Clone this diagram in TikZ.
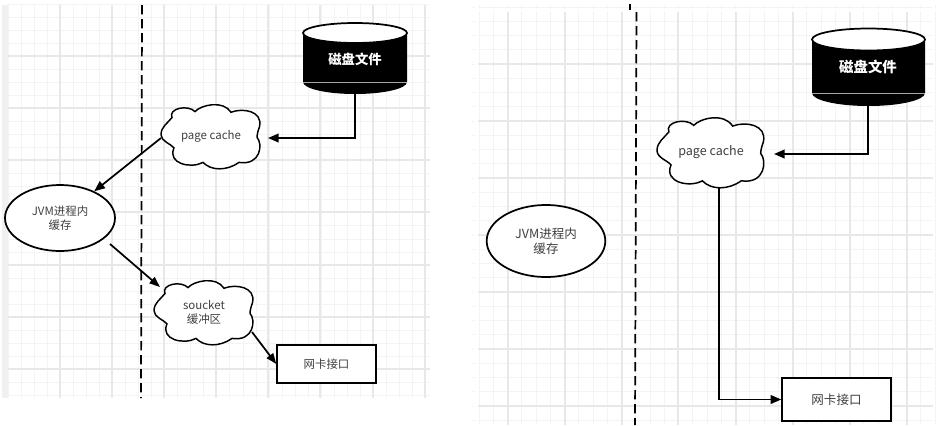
\documentclass[tikz,border=0pt]{standalone}
\usepackage{fontspec}
\setmainfont{Noto Sans CJK SC}
\usetikzlibrary{arrows.meta,shapes.geometric}
\definecolor{txt}{gray}{0.25}
\definecolor{minorg}{gray}{0.955}
\definecolor{majorg}{gray}{0.91}
\newcommand{\cloudoutline}{(0,.48)
 .. controls (.0,.36) and (.07,.3) .. (.11,.22)
 .. controls (.07,.08) and (.27,.02) .. (.34,.13)
 .. controls (.4,.03) and (.62,-.05) .. (.7,.14)
 .. controls (.82,.07) and (1.02,.12) .. (.985,.36)
 .. controls (.97,.42) and (.96,.48) .. (.96,.52)
 .. controls (1.02,.62) and (1,.95) .. (.78,.9)
 .. controls (.66,1.03) and (.5,1.03) .. (.42,.9)
 .. controls (.3,1) and (.06,.92) .. (.13,.68)
 .. controls (.1,.62) and (0,.58) .. (0,.48) -- cycle}
\tikzset{
  minorline/.style={draw=minorg,line width=.6pt},
  majorline/.style={draw=majorg,line width=.8pt},
  shapeline/.style={draw=black,line width=1.3pt},
  labelnode/.style={text=txt,align=center,font=\fontsize{8.6pt}{10.5pt}\selectfont,inner sep=0pt},
  labelbig/.style={text=txt,align=center,font=\fontsize{9.4pt}{11.2pt}\selectfont,inner sep=0pt},
  disklabel/.style={text=white,font=\bfseries\fontsize{10pt}{12pt}\selectfont,inner sep=0pt},
  conn/.style={draw=black,line width=1.3pt,-{Triangle[length=8pt,width=6.5pt]}},
  divider/.style={draw=black,line width=1.3pt,dash pattern=on 7pt off 3.5pt},
}
\begin{document}
\begin{tikzpicture}[x=.75pt,y=-.75pt]
\useasboundingbox (0,0) rectangle (938,425);
\fill[white] (0,0) rectangle (938,425);
% left panel grid
\fill[gray!12] (2,5) rectangle (8,398);
\foreach \i in {0,...,32} {
  \pgfmathsetmacro{\xx}{8+13.05*\i}
  \draw[minorline] (\xx,5) -- (\xx,398);
}
\foreach \i in {0,...,30} {
  \pgfmathsetmacro{\yy}{4+13.05*\i}
  \draw[minorline] (8,\yy) -- (430,\yy);
}
\foreach \xx in {60,112,164,216,268,320,373,425} \draw[majorline] (\xx,5) -- (\xx,398);
\foreach \yy in {56,108,160,212,265,317,369} \draw[majorline] (8,\yy) -- (430,\yy);
% right panel grid
\foreach \i in {0,...,32} {
  \pgfmathsetmacro{\xx}{479+14.25*\i}
  \draw[minorline] (\xx,12) -- (\xx,425);
  \draw[minorline] (\xx,5) -- (\xx,9);
}
\foreach \i in {0,...,29} {
  \pgfmathsetmacro{\yy}{7+14.25*\i}
  \draw[minorline] (478,\yy) -- (933,\yy);
  \draw[minorline] (471,\yy) -- (475,\yy);
}
\foreach \xx in {508,565,622,678,736,793,850,907} \draw[majorline] (\xx,12) -- (\xx,425);
\foreach \yy in {64,121,178,235,292,349,406} \draw[majorline] (478,\yy) -- (933,\yy);
% dividers
\coordinate (dl1) at (142,5); \coordinate (dl2) at (141,398);
\draw[divider] (dl1) -- (dl2);
\coordinate (dr0) at (630,4); \coordinate (dr1) at (630,10);
\draw[black,line width=1.3pt] (dr0) -- (dr1);
\coordinate (dr2) at (636.5,12); \coordinate (dr3) at (635,425);
\draw[divider] (dr2) -- (dr3);
% left disk
\fill[black] (303,33) -- (303,82) arc[start angle=180,end angle=360,x radius=52,y radius=-12] -- (407,33) -- cycle;
\draw[shapeline,fill=white] (355,33) ellipse[x radius=52,y radius=10];
\draw[gray!70,line width=.6pt] (303,82) -- (407,82);
\node[disklabel] (disk1) at (355,59) {磁盘文件};
\coordinate (disk1b) at (355,94);
% right disk
\fill[black] (812,39.5) -- (812,93) arc[start angle=180,end angle=360,x radius=56.5,y radius=-13] -- (925,39.5) -- cycle;
\draw[shapeline,fill=white] (868.5,39.5) ellipse[x radius=56.5,y radius=11];
\draw[gray!70,line width=.6pt] (812,93) -- (925,93);
\node[disklabel,font=\bfseries\fontsize{10.8pt}{12pt}\selectfont] (disk2) at (868,67) {磁盘文件};
\coordinate (disk2b) at (868,106);
% left clouds
\begin{scope}[shift={(161,103)},x=75pt,y=-49.5pt]
  \draw[shapeline,line width=1.1pt,fill=white] \cloudoutline;
\end{scope}
\node[labelnode,minimum width=75pt,minimum height=49.5pt] (pc1) at (211,136.5) {page cache};
\begin{scope}[shift={(154,279)},x=75pt,y=-49.5pt]
  \draw[shapeline,line width=1.1pt,fill=white] \cloudoutline;
\end{scope}
\node[labelnode,minimum width=75pt,minimum height=49.5pt] (sb) at (204,312) {soucket\\缓冲区};
% right cloud
\begin{scope}[shift={(657,116)},x=81pt,y=-54pt]
  \draw[shapeline,line width=1.1pt,fill=white] \cloudoutline;
\end{scope}
\node[labelbig,minimum width=81pt,minimum height=54pt] (pc2) at (711,152) {page cache};
% ellipses
\node[ellipse,shapeline,fill=white,labelnode,minimum width=82.5pt,minimum height=49.5pt] (jvm1) at (60,218) {JVM进程内\\缓存};
\node[ellipse,shapeline,fill=white,labelbig,minimum width=89pt,minimum height=54pt] (jvm2) at (546,241) {JVM进程内\\缓存};
% boxes
\node[rectangle,shapeline,fill=white,labelnode,minimum width=74pt,minimum height=28.5pt] (nic1) at (326.5,364) {网卡接口};
\node[rectangle,shapeline,fill=white,labelbig,minimum width=81.5pt,minimum height=32pt] (nic2) at (836.5,399.5) {网卡接口};
% connectors
\coordinate (pc1in) at (268,138);
\draw[conn] (disk1b) |- (pc1in);
\coordinate (pc1w) at (161,138);
\draw[conn] (pc1w) -- (jvm1.38);
\coordinate (jvmout) at (110,244);
\coordinate (sbin) at (160,287);
\draw[conn,-{Triangle[length=8pt,width=6pt]}] (jvmout) -- (sbin);
\coordinate (sbout) at (252,332);
\draw[conn,-{Triangle[length=8pt,width=6pt]}] (sbout) -- (nic1.west);
\coordinate (pc2in) at (774,154);
\draw[conn] (disk2b) |- (pc2in);
\coordinate (pc2out) at (719,188);
\draw[conn] (pc2out) |- (nic2.west);
\end{tikzpicture}
\end{document}
